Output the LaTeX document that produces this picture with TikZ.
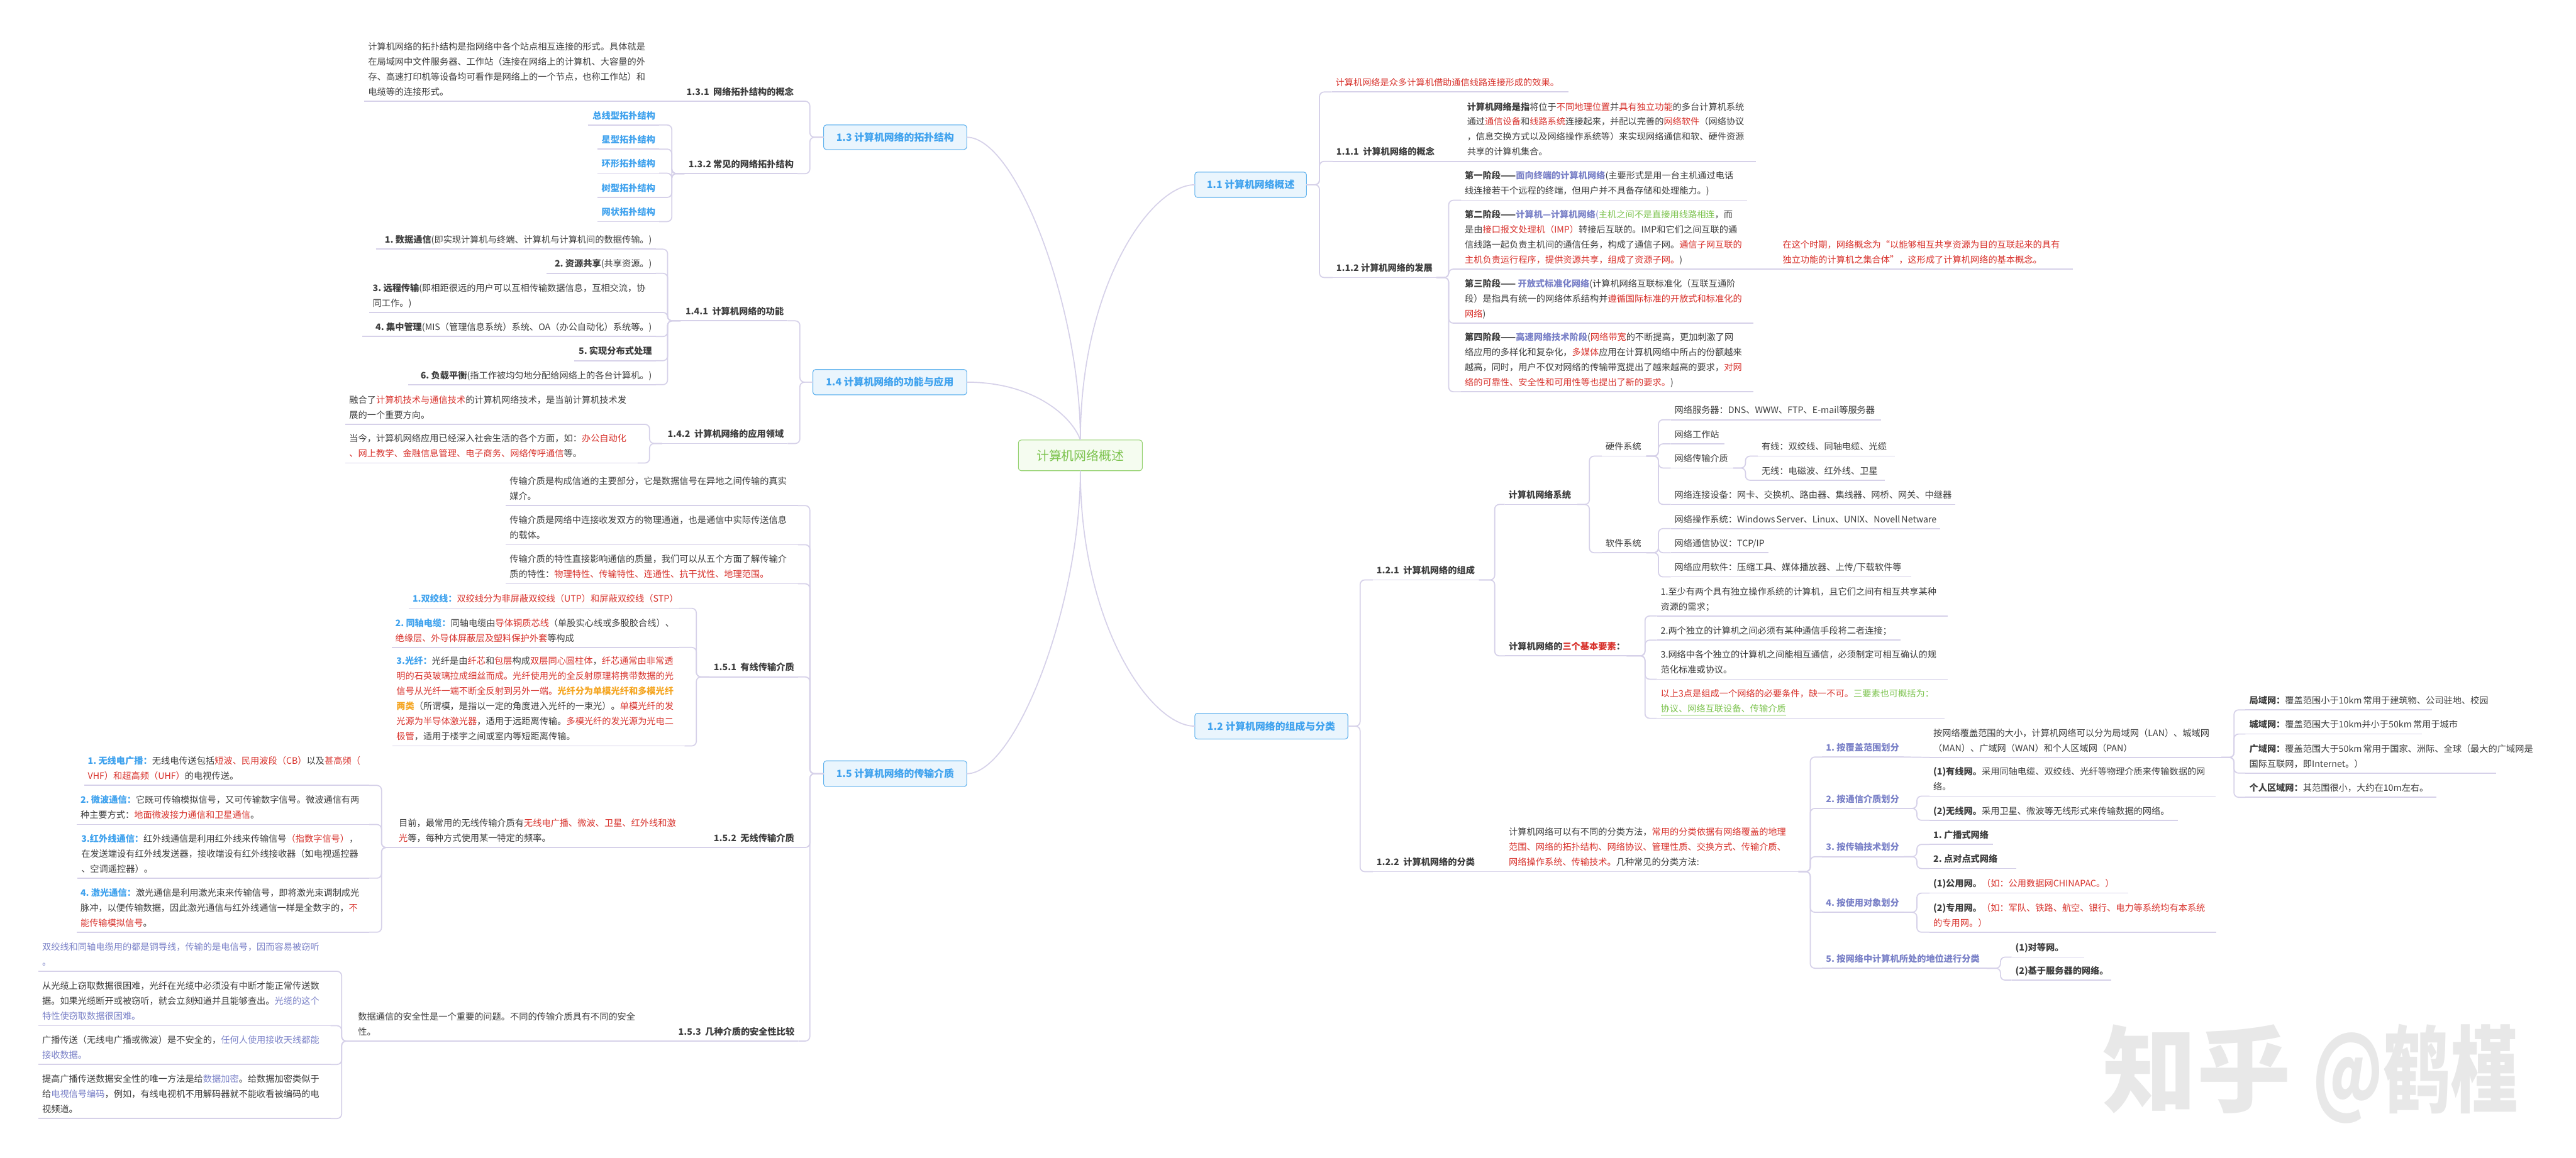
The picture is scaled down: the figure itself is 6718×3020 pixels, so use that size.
\documentclass[tikz,border=0pt]{standalone}
\usepackage{fontspec}
\setmainfont{Noto Sans CJK SC}
\definecolor{linec}{HTML}{D6D1E9}
\definecolor{txt}{HTML}{3D3D3D}
\definecolor{redc}{HTML}{D8322C}
\definecolor{bluec}{HTML}{3FA2EE}
\definecolor{purc}{HTML}{7B82C8}
\definecolor{grnc}{HTML}{7CC34E}
\definecolor{orgc}{HTML}{F5A623}
\definecolor{secfill}{HTML}{EAF5FD}
\definecolor{secline}{HTML}{62B3EE}
\definecolor{cenfill}{HTML}{F5FCF0}
\definecolor{cenline}{HTML}{97D273}
\newcommand\rd[1]{\textcolor{redc}{#1}}
\newcommand\pu[1]{\textcolor{purc}{#1}}
\newcommand\bu[1]{\textcolor{bluec}{\textbf{#1}}}
\newcommand\pb[1]{\textcolor{purc}{\textbf{#1}}}
\newcommand\gn[1]{\textcolor{grnc}{#1}}
\newcommand\og[1]{\textcolor{orgc}{\textbf{#1}}}
\newcommand\fsnorm{\fontsize{6.63pt}{11.18pt}\selectfont}
\tikzset{
  conn/.style={draw=linec,line width=0.8pt,rounded corners=0.12cm},
  ulin/.style={draw=linec,line width=0.8pt},
  txtnode/.style={inner xsep=0.1cm,inner ysep=0pt,outer sep=0pt,anchor=south west,text=txt,font=\fsnorm},
  secnode/.style={draw=secline,fill=secfill,line width=0.5pt,rounded corners=0.07cm,inner sep=0pt,outer sep=0pt,text=bluec,font=\fontsize{7.4pt}{9pt}\selectfont\bfseries},
  cennode/.style={draw=cenline,fill=cenfill,line width=0.5pt,rounded corners=0.07cm,inner sep=0pt,outer sep=0pt,text=grnc,font=\fontsize{9.3pt}{11pt}\selectfont,minimum width=3.23cm,minimum height=0.8cm},
  wmark/.style={inner sep=0pt,text=black!9,font=\fontsize{69.7pt}{72pt}\selectfont\bfseries}
}
% name, x0, x1, underline y, alignment, text
\newcommand\tn[6]{%
  \pgfmathsetlengthmacro\twd{(#3-#2-20)*0.01cm}%
  \node[txtnode,text width=\twd,align=#5] (#1) at (#2,#4) {#6\rule[-0.16cm]{0pt}{0.2cm}};
  \draw[ulin] (#1.south west) -- (#1.south east);
}
\newcommand\tnl[5]{\tn{#1}{#2}{#3}{#4}{flush left}{#5}}
\newcommand\tnr[5]{\tn{#1}{#2}{#3}{#4}{flush right}{#5}}
\newcommand\brk[3]{\draw[conn] (#1) -- (#3,0 |- #1) -- (#3,0 |- #2) -- (#2);}
\newcommand\lnk[2]{\draw[ulin] (#1) -- (#2);}
\begin{document}
\begin{tikzpicture}[x=0.01cm,y=-0.01cm]
\fill[white] (0,0) rectangle (6718,3020);
\useasboundingbox (0,0) rectangle (6718,3020);

% ---- centre and sections
\node[cennode] (root) at (2817.5,1188) {计算机网络概述};
\node[secnode,minimum width=2.91cm,minimum height=0.66cm] (s11) at (3261.5,482) {1.1 计算机网络概述};
\node[secnode,minimum width=3.99cm,minimum height=0.67cm] (s12) at (3315.5,1894.5) {1.2 计算机网络的组成与分类};
\node[secnode,minimum width=3.73cm,minimum height=0.64cm] (s13) at (2334.5,358) {1.3 计算机网络的拓扑结构};
\node[secnode,minimum width=4.01cm,minimum height=0.66cm] (s14) at (2320.5,997) {1.4 计算机网络的功能与应用};
\node[secnode,minimum width=3.73cm,minimum height=0.67cm] (s15) at (2334.5,2018.5) {1.5 计算机网络的传输介质};
\draw[ulin] (root.north) .. controls +(0,-400) and +(-116,0) .. (s11.west);
\draw[ulin] (root.south) .. controls +(0,400) and +(-116,0) .. (s12.west);
\draw[ulin] (root.north) .. controls +(0,-348) and +(129,0) .. (s13.east);
\draw[ulin] (root.north) .. controls +(-20,-58) and +(179,0) .. (s14.east);
\draw[ulin] (root.south) .. controls +(0,348) and +(129,0) .. (s15.east);

% ---- 1.3
\tnr{n131}{1779}{2080}{264}{\textbf{1.3.1\ \ 网络拓扑结构的概念}}
\tnl{d131}{950}{1714}{264}{计算机网络的拓扑结构是指网络中各个站点相互连接的形式。具体就是\\在局域网中文件服务器、工作站（连接在网络上的计算机、大容量的外\\存、高速打印机等设备均可看作是网络上的一个节点，也称工作站）和\\电缆等的连接形式。}
\tnr{n132}{1785}{2080}{453}{\textbf{1.3.2 常见的网络拓扑结构}}
\tnr{t1}{1533}{1719}{326}{\bu{总线型拓扑结构}}
\tnr{t2}{1558}{1719}{389}{\bu{星型拓扑结构}}
\tnr{t3}{1558}{1719}{452}{\bu{环形拓扑结构}}
\tnr{t4}{1558}{1719}{515}{\bu{树型拓扑结构}}
\tnr{t5}{1558}{1719}{578}{\bu{网状拓扑结构}}
\brk{s13.west}{n131.south east}{2112}
\brk{s13.west}{n132.south east}{2112}
\lnk{n131.south west}{d131.south east}
\brk{n132.south west}{t1.south east}{1752}
\brk{n132.south west}{t2.south east}{1752}
\brk{n132.south west}{t3.south east}{1752}
\brk{n132.south west}{t4.south east}{1752}
\brk{n132.south west}{t5.south east}{1752}

% ---- 1.4
\tnr{n141}{1775}{2054}{837}{\textbf{1.4.1\ \ 计算机网络的功能}}
\tnr{n142}{1727}{2054}{1157}{\textbf{1.4.2\ \ 计算机网络的应用领域}}
\tnr{f1}{980}{1710}{650}{\textbf{1.~数据通信}(即实现计算机与终端、计算机与计算机间的数据传输。)}
\tnr{f2}{1426}{1710}{713}{\textbf{2.~资源共享}(共享资源。)}
\tnl{f3}{962}{1710}{815}{\textbf{3.~远程传输}(即相距很远的用户可以互相传输数据信息，互相交流，协\\同工作。)}
\tnr{f4}{944}{1710}{878}{\textbf{4.~集中管理}(MIS（管理信息系统）系统、OA（办公自动化）系统等。)}
\tnr{f5}{1497}{1710}{941}{\textbf{5.~实现分布式处理}}
\tnr{f6}{1065}{1710}{1003.5}{\textbf{6.~负载平衡}(指工作被均匀地分配给网络上的各台计算机。)}
\tnl{f7}{901}{1663}{1107}{融合了\rd{计算机技术与通信技术}的计算机网络技术，是当前计算机技术发\\展的一个重要方向。}
\tnl{f8}{901}{1663}{1208}{当今，计算机网络应用已经深入社会生活的各个方面，如：\rd{办公自动化}\\\rd{、网上教学、金融信息管理、电子商务、网络传呼通信}等。}
\brk{s14.west}{n141.south east}{2086}
\brk{s14.west}{n142.south east}{2086}
\brk{n141.south west}{f1.south east}{1741}
\brk{n141.south west}{f2.south east}{1741}
\brk{n141.south west}{f3.south east}{1741}
\brk{n141.south west}{f4.south east}{1741}
\brk{n141.south west}{f5.south east}{1741}
\brk{n141.south west}{f6.south east}{1741}
\brk{n142.south west}{f7.south east}{1694}
\brk{n142.south west}{f8.south east}{1694}

% ---- 1.5
\tnl{c1}{1319}{2081}{1319}{传输介质是构成信道的主要部分，它是数据信号在异地之间传输的真实\\媒介。}
\tnl{c2}{1319}{2081}{1421}{传输介质是网络中连接收发双方的物理通道，也是通信中实际传送信息\\的载体。}
\tnl{c3}{1319}{2081}{1523}{传输介质的特性直接影响通信的质量，我们可以从五个方面了解传输介\\质的特性：\rd{物理特性、传输特性、连通性、抗干扰性、地理范围。}}
\tnr{n151}{1850}{2081}{1766}{\textbf{1.5.1\ \ 有线传输介质}}
\tnl{a1}{1066}{1771}{1587}{\bu{1.双绞线：}\rd{双绞线分为非屏蔽双绞线（UTP）和屏蔽双绞线（STP）}}
\tnl{a2}{1021}{1771}{1689}{\bu{2.~同轴电缆：}同轴电缆由\rd{导体铜质芯线}（单股实心线或多股胶合线）、\\\rd{绝缘层、外导体屏蔽层及塑料保护外套}等构成}
\tnl{a3}{1024}{1785}{1946}{\bu{3.光纤：}光纤是由\rd{纤芯}和\rd{包层}构成\rd{双层同心圆柱体}，\rd{纤芯通常由非常透}\\\rd{明的石英玻璃拉成细丝而成。光纤使用光的全反射原理将携带数据的光}\\\rd{信号从光纤一端不断全反射到另外一端。}\og{光纤分为单模光纤和多模光纤}\\\og{两类}（所谓模，是指以一定的角度进入光纤的一束光）。\rd{单模光纤的发}\\\rd{光源为半导体激光器}，适用于远距离传输。\rd{多模光纤的发光源为光电二}\\\rd{极管}，适用于楼宇之间或室内等短距离传输。}
\tnr{n152}{1776}{2081}{2211}{\textbf{1.5.2\ \ 无线传输介质}}
\tnl{d152}{1030}{1771}{2211}{目前，最常用的无线传输介质有\rd{无线电广播、微波、卫星、红外线和激}\\\rd{光}等，每种方式使用某一特定的频率。}
\tnl{b1}{219}{963}{2049}{\bu{1.~无线电广播：}无线电传送包括\rd{短波、民用波段（CB）}以及\rd{甚高频（}\\\rd{VHF）和超高频（UHF）}的电视传送。}
\tnl{b2}{200}{963}{2151}{\bu{2.~微波通信：}它既可传输模拟信号，又可传输数字信号。微波通信有两\\种主要方式：\rd{地面微波接力通信和卫星通信}。}
\tnl{b3}{202}{963}{2291}{\bu{3.红外线通信：}红外线通信是利用红外线来传输信号\rd{（指数字信号）}，\\在发送端设有红外线发送器，接收端设有红外线接收器（如电视遥控器\\、空调遥控器）。}
\tnl{b4}{200}{963}{2432}{\bu{4.~激光通信：}激光通信是利用激光束来传输信号，即将激光束调制成光\\脉冲，以便传输数据，因此激光通信与红外线通信一样是全数字的，\rd{不}\\\rd{能传输模拟信号}。}
\tnr{n153}{1754}{2082}{2716}{\textbf{1.5.3\ \ 几种介质的安全性比较}}
\tnl{d153}{924}{1690}{2716}{数据通信的安全性是一个重要的问题。不同的传输介质具有不同的安全\\性。}
\tnl{e1}{100}{862}{2534}{\pu{双绞线和同轴电缆用的都是铜导线，传输的是电信号，因而容易被窃听}\\\pu{。}}
\tnl{e2}{100}{862}{2676}{从光缆上窃取数据很困难，光纤在光缆中必须没有中断才能正常传送数\\据。如果光缆断开或被窃听，就会立刻知道并且能够查出。\pu{光缆的这个}\\\pu{特性使窃取数据很困难。}}
\tnl{e3}{100}{862}{2777}{广播传送（无线电广播或微波）是不安全的，\pu{任何人使用接收天线都能}\\\pu{接收数据。}}
\tnl{e4}{100}{862}{2918}{提高广播传送数据安全性的唯一方法是给\pu{数据加密}。给数据加密类似于\\给\pu{电视信号编码}，例如，有线电视机不用解码器就不能收看被编码的电\\视频道。}
\brk{s15.west}{c1.south east}{2112}
\brk{s15.west}{c2.south east}{2112}
\brk{s15.west}{c3.south east}{2112}
\brk{s15.west}{n151.south east}{2112}
\brk{s15.west}{n152.south east}{2112}
\brk{s15.west}{n153.south east}{2112}
\brk{n151.south west}{a1.south east}{1816}
\brk{n151.south west}{a2.south east}{1816}
\brk{n151.south west}{a3.south east}{1816}
\lnk{n152.south west}{d152.south east}
\brk{d152.south west}{b1.south east}{995}
\brk{d152.south west}{b2.south east}{995}
\brk{d152.south west}{b3.south east}{995}
\brk{d152.south west}{b4.south east}{995}
\lnk{n153.south west}{d153.south east}
\brk{d153.south west}{e1.south east}{891}
\brk{d153.south west}{e2.south east}{891}
\brk{d153.south west}{e3.south east}{891}
\brk{d153.south west}{e4.south east}{891}

% ---- 1.1
\tnl{g0}{3473}{4090}{240}{\rd{计算机网络是众多计算机借助通信线路连接形成的效果。}}
\tnl{n111}{3475}{3752}{421}{\textbf{1.1.1\ \ 计算机网络的概念}}
\tnl{d111}{3816}{4580}{421}{\textbf{计算机网络是指}将位于\rd{不同地理位置}并\rd{具有独立功能}的多台计算机系统\\通过\rd{通信设备}和\rd{线路系统}连接起来，并配以完善的\rd{网络软件}（网络协议\\，信息交换方式以及网络操作系统等）来实现网络通信和软、硬件资源\\共享的计算机集合。}
\tnl{n112}{3475}{3746}{724}{\textbf{1.1.2~计算机网络的发展}}
\tnl{g1}{3810}{4557}{522.5}{\textbf{第一阶段——}\pb{面向终端的计算机网络}(主要形式是用一台主机通过电话\\线连接若干个远程的终端，但用户并不具备存储和处理能力。)}
\tnl{g2}{3810}{4573}{702}{\textbf{第二阶段——}\pb{计算机—计算机网络}\pu{(}\gn{主机之间不是直接用线路相连}，而\\是由\rd{接口报文处理机（IMP）}转接后互联的。IMP和它们之间互联的通\\信线路一起负责主机间的通信任务，构成了通信子网。\rd{通信子网互联的}\\\rd{主机负责运行程序，提供资源共享，组成了资源子网。})}
\tnl{g2n}{4639}{5405}{702}{\rd{在这个时期，网络概念为“以能够相互共享资源为目的互联起来的具有}\\\rd{独立功能的计算机之集合体”，这形成了计算机网络的基本概念。}}
\tnl{g3}{3810}{4572}{843}{\textbf{第三阶段——}~\pb{开放式标准化网络}(计算机网络互联标准化（互联互通阶\\段）是指具有统一的网络体系结构并\rd{遵循国际标准的开放式和标准化的}\\\rd{网络})}
\tnl{g4}{3810}{4572}{1022}{\textbf{第四阶段——}\pb{高速网络技术阶段}(\rd{网络带宽}的不断提高，更加刺激了网\\络应用的多样化和复杂化，\rd{多媒体}应用在计算机网络中所占的份额越来\\越高，同时，用户不仅对网络的传输带宽提出了越来越高的要求，\rd{对网}\\\rd{络的可靠性、安全性和可用性等也提出了新的要求。})}
\brk{s11.east}{g0.south west}{3441}
\brk{s11.east}{n111.south west}{3441}
\brk{s11.east}{n112.south west}{3441}
\lnk{n111.south east}{d111.south west}
\brk{n112.south east}{g1.south west}{3778}
\brk{n112.south east}{g2.south west}{3778}
\brk{n112.south east}{g3.south west}{3778}
\brk{n112.south east}{g4.south west}{3778}
\lnk{g2.south east}{g2n.south west}

% ---- 1.2
\tnl{n121}{3580}{3857}{1513}{\textbf{1.2.1\ \ 计算机网络的组成}}
\tnl{n122}{3580}{3857}{2274}{\textbf{1.2.2\ \ 计算机网络的分类}}
\tnl{h1}{3924}{4113}{1316}{\textbf{计算机网络系统}}
\tnl{h2}{3925}{4242}{1711}{\textbf{计算机网络的\rd{三个基本要素}：}}
\tnl{hw}{4177}{4293}{1190}{硬件系统}
\tnl{sw}{4177}{4293}{1442}{软件系统}
\tnl{w1}{4357}{4906}{1095}{网络服务器：DNS、WWW、FTP、E-mail等服务器}
\tnl{w2}{4357}{4497}{1158}{网络工作站}
\tnl{w3}{4357}{4520}{1221}{网络传输介质}
\tnl{w4}{4357}{5099}{1316}{网络连接设备：网卡、交换机、路由器、集线器、网桥、网关、中继器}
\tnl{y1}{4584}{4941}{1190}{有线：双绞线、同轴电缆、光缆}
\tnl{y2}{4584}{4916}{1253}{无线：电磁波、红外线、卫星}
\tnl{v1}{4357}{5059}{1379}{网络操作系统：Windows~Server、Linux、UNIX、Novell~Netware}
\tnl{v2}{4357}{4612}{1442}{网络通信协议：TCP/IP}
\tnl{v3}{4357}{4985}{1505}{网络应用软件：压缩工具、媒体播放器、上传/下载软件等}
\tnl{i1}{4321}{5079}{1607}{1.至少有两个具有独立操作系统的计算机，且它们之间有相互共享某种\\资源的需求；}
\tnl{i2}{4321}{4956}{1670}{2.两个独立的计算机之间必须有某种通信手段将二者连接；}
\tnl{i3}{4321}{5079}{1772}{3.网络中各个独立的计算机之间能相互通信，必须制定可相互确认的规\\范化标准或协议。}
\tnl{i4}{4321}{5071}{1874}{\rd{以上3点是组成一个网络的必要条件，缺一不可。}\gn{三要素也可概括为：}\\\textcolor{grnc}{\underline{协议、网络互联设备、传输介质}}}
\tnl{d122}{3925}{4690}{2274}{计算机网络可以有不同的分类方法，\rd{常用的分类依据有网络覆盖的地理}\\\rd{范围、网络的拓扑结构、网络协议、管理性质、交换方式、传输介质、}\\\rd{网络操作系统、传输技术。}几种常见的分类方法:}
\tnl{j1}{4752}{4965}{1975}{\pb{1.~按覆盖范围划分}}
\tnl{j2}{4752}{4965}{2109}{\pb{2.~按通信介质划分}}
\tnl{j3}{4752}{4965}{2235}{\pb{3.~按传输技术划分}}
\tnl{j4}{4752}{4965}{2380}{\pb{4.~按使用对象划分}}
\tnl{j5}{4752}{5181}{2526}{\pb{5.~按网络中计算机所处的地位进行分类}}
\tnl{k1}{5032}{5793}{1976}{按网络覆盖范围的大小，计算机网络可以分为局域网（LAN）、城域网\\（MAN）、广域网（WAN）和个人区域网（PAN）}
\tnl{l1}{5856}{6342}{1852}{\textbf{局域网：}覆盖范围小于10km~常用于建筑物、公司驻地、校园}
\tnl{l2}{5856}{6316}{1915}{\textbf{城域网：}覆盖范围大于10km并小于50km~常用于城市}
\tnl{l3}{5856}{6509}{2017}{\textbf{广域网：}覆盖范围大于50km~常用于国家、洲际、全球（最大的广域网是\\国际互联网，即Internet。）}
\tnl{l4}{5856}{6353}{2080}{\textbf{个人区域网：}其范围很小，大约在10m左右。}
\tnl{m1}{5032}{5778}{2077}{\textbf{(1)有线网。}采用同轴电缆、双绞线、光纤等物理介质来传输数据的网\\络。}
\tnl{m2}{5032}{5680}{2140}{\textbf{(2)无线网。}采用卫星、微波等无线形式来传输数据的网络。}
\tnl{o0}{5032}{5198}{2203}{\textbf{1.~广播式网络}}
\tnl{o3}{5032}{5258}{2266}{\textbf{2.~点对点式网络}}
\tnl{o1}{5032}{5550}{2330}{\textbf{(1)公用网。}\rd{（如：公用数据网CHINAPAC。）}}
\tnl{o2}{5032}{5780}{2432}{\textbf{(2)专用网。}\rd{（如：军队、铁路、航空、银行、电力等系统均有本系统}\\\rd{的专用网。）}}
\tnl{p1}{5246}{5436}{2497}{\textbf{(1)对等网。}}
\tnl{p2}{5246}{5506}{2557}{\textbf{(2)基于服务器的网络。}}
\brk{s12.east}{n121.south west}{3547}
\brk{s12.east}{n122.south west}{3547}
\brk{n121.south east}{h1.south west}{3898}
\brk{n121.south east}{h2.south west}{3898}
\brk{h1.south east}{hw.south west}{4145}
\brk{h1.south east}{sw.south west}{4145}
\brk{hw.south east}{w1.south west}{4325}
\brk{hw.south east}{w2.south west}{4325}
\brk{hw.south east}{w3.south west}{4325}
\brk{hw.south east}{w4.south west}{4325}
\brk{w3.south east}{y1.south west}{4552}
\brk{w3.south east}{y2.south west}{4552}
\brk{sw.south east}{v1.south west}{4325}
\brk{sw.south east}{v2.south west}{4325}
\brk{sw.south east}{v3.south west}{4325}
\brk{h2.south east}{i1.south west}{4290}
\brk{h2.south east}{i2.south west}{4290}
\brk{h2.south east}{i3.south west}{4290}
\brk{h2.south east}{i4.south west}{4290}
\lnk{n122.south east}{d122.south west}
\brk{d122.south east}{j1.south west}{4721}
\brk{d122.south east}{j2.south west}{4721}
\brk{d122.south east}{j3.south west}{4721}
\brk{d122.south east}{j4.south west}{4721}
\brk{d122.south east}{j5.south west}{4721}
\lnk{j1.south east}{k1.south west}
\brk{k1.south east}{l1.south west}{5826}
\brk{k1.south east}{l2.south west}{5826}
\brk{k1.south east}{l3.south west}{5826}
\brk{k1.south east}{l4.south west}{5826}
\brk{j2.south east}{m1.south west}{4999}
\brk{j2.south east}{m2.south west}{4999}
\brk{j3.south east}{o0.south west}{4999}
\brk{j3.south east}{o3.south west}{4999}
\brk{j4.south east}{o1.south west}{4999}
\brk{j4.south east}{o2.south west}{4999}
\brk{j5.south east}{p1.south west}{5217}
\brk{j5.south east}{p2.south west}{5217}

% ---- watermark
\node[wmark] (wm) at (6026,2802) {知乎~\scalebox{0.72}[1]{@鹤槿}};
\end{tikzpicture}
\end{document}
